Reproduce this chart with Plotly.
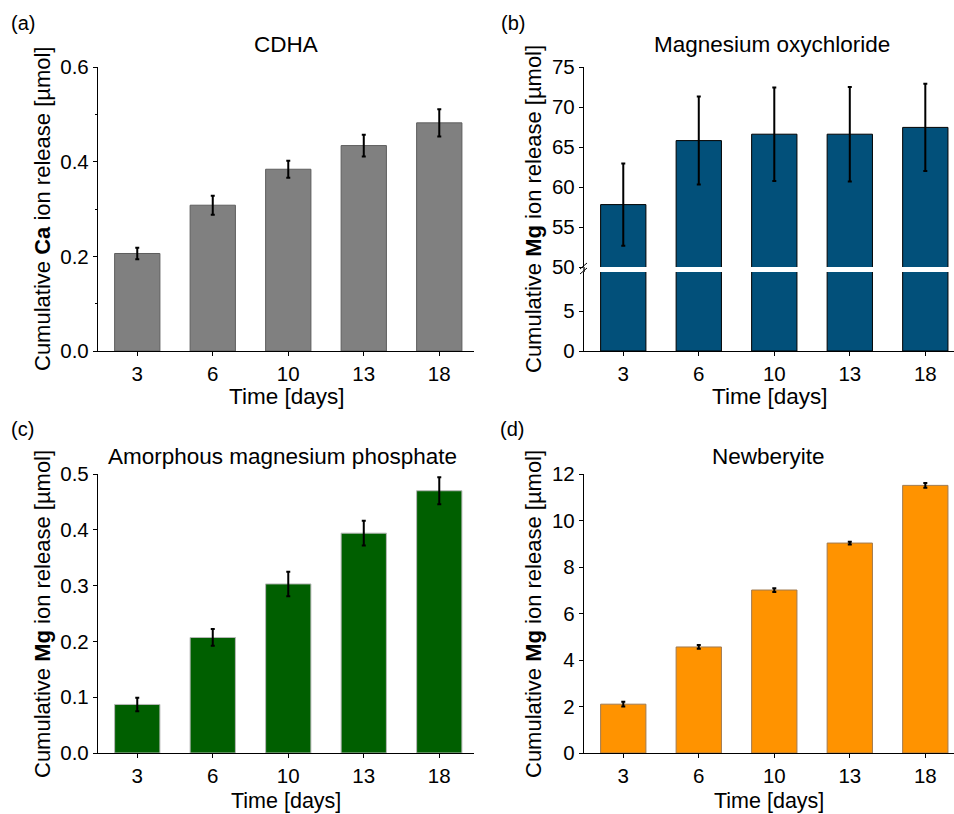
import plotly.graph_objects as go

# ---------------- data ----------------
days = ["3", "6", "10", "13", "18"]

ca_cdha = [0.206, 0.308, 0.384, 0.434, 0.482]
ca_cdha_err = [0.012, 0.020, 0.018, 0.023, 0.029]

mg_moc = [57.8, 65.8, 66.6, 66.6, 67.45]
mg_moc_err = [5.15, 5.5, 5.85, 5.9, 5.45]

mg_amp = [0.087, 0.207, 0.303, 0.394, 0.470]
mg_amp_err = [0.012, 0.015, 0.022, 0.022, 0.024]

mg_newb = [2.10, 4.56, 7.01, 9.03, 11.51]
mg_newb_err = [0.10, 0.08, 0.08, 0.06, 0.10]

titles = ["CDHA", "Magnesium oxychloride", "Amorphous magnesium phosphate", "Newberyite"]
panel_labels = ["(a)", "(b)", "(c)", "(d)"]
ytitles = ["Cumulative <b>Ca</b> ion release [µmol]",
           "Cumulative <b>Mg</b> ion release [µmol]",
           "Cumulative <b>Mg</b> ion release [µmol]",
           "Cumulative <b>Mg</b> ion release [µmol]"]
xtitle = "Time [days]"

# ---------------- geometry ----------------
W, H = 954, 814
FONT = "Liberation Sans, Arial, sans-serif"


def px(x):
    return x / W


def py(y):
    return 1 - y / H


xa_dom = [px(98), px(474)]
xb_dom = [px(584), px(954)]
ytop_dom = [py(351), py(67)]
ybot_dom = [py(753), py(474)]
yb_low_dom = [py(351), py(272)]
yb_up_dom = [py(267), py(67)]

fig = go.Figure()


def bar(x, y, err, color, line_color, xaxis, yaxis, show_err=True):
    return go.Bar(
        x=x, y=y, width=0.6,
        marker=dict(color=color, line=dict(color=line_color, width=1)),
        error_y=dict(type="data", array=err, visible=show_err, color="black",
                     thickness=2, width=2),
        xaxis=xaxis, yaxis=yaxis, showlegend=False,
    )


fig.add_trace(bar(days, ca_cdha, ca_cdha_err, "#808080", "#5e5e5e", "x", "y"))
fig.add_trace(bar(days, mg_moc, mg_moc_err, "#02507a", "#000000", "x2", "y2"))
fig.add_trace(bar(days, mg_moc, mg_moc_err, "#02507a", "#000000", "x3", "y3", show_err=False))
fig.add_trace(bar(days, mg_amp, mg_amp_err, "#005f00", "#b8b8b8", "x4", "y4"))
fig.add_trace(bar(days, mg_newb, mg_newb_err, "#ff9300", "#a07a50", "x5", "y5"))

tickfont = dict(family=FONT, size=20.5, color="black")
xrange_left = [-0.52, 4.46]
xrange_right = [-0.52, 4.38]


def xaxis(domain, anchor, rng, show=True):
    return dict(domain=domain, anchor=anchor, type="category", range=rng,
                showline=show, linecolor="black", linewidth=1.3,
                ticks="outside" if show else "", ticklen=4, tickwidth=1.3,
                tickcolor="black", showticklabels=show, tickfont=tickfont,
                showgrid=False, zeroline=False, automargin=False)


def yaxis(domain, anchor, rng, tickvals, fmt=None, minor=None):
    d = dict(domain=domain, anchor=anchor, range=rng, tickvals=tickvals,
             showline=True, linecolor="black", linewidth=1.3,
             ticks="outside", ticklen=4, tickwidth=1.3, tickcolor="black",
             tickfont=tickfont, showgrid=False, zeroline=False, automargin=False)
    if fmt:
        d["tickformat"] = fmt
    if minor is not None:
        d["minor"] = minor
    return d


fig.update_layout(
    template="none",
    width=W, height=H,
    margin=dict(l=0, r=0, t=0, b=0, autoexpand=False),
    paper_bgcolor="white", plot_bgcolor="white",
    font=dict(family=FONT, size=20, color="black"),
    xaxis=xaxis(xa_dom, "y", xrange_left),
    yaxis=yaxis(ytop_dom, "x", [0, 0.6], [0, 0.2, 0.4, 0.6], fmt=".1f",
                minor=dict(ticks="outside", ticklen=2, tickvals=[0.1, 0.3, 0.5],
                           tickcolor="black", tickwidth=1)),
    xaxis2=xaxis(xb_dom, "y2", xrange_right, show=False),
    yaxis2=yaxis(yb_up_dom, "x2", [50, 75], [50, 55, 60, 65, 70, 75]),
    xaxis3=xaxis(xb_dom, "y3", xrange_right),
    yaxis3=yaxis(yb_low_dom, "x3", [0, 9.9], [0, 5]),
    xaxis4=xaxis(xa_dom, "y4", xrange_left),
    yaxis4=yaxis(ybot_dom, "x4", [0, 0.5], [0, 0.1, 0.2, 0.3, 0.4, 0.5], fmt=".1f"),
    xaxis5=xaxis(xb_dom, "y5", xrange_right),
    yaxis5=yaxis(ybot_dom, "x5", [0, 12], [0, 2, 4, 6, 8, 10, 12]),
)

ann = []
title_font = dict(family=FONT, size=22.5, color="black")
label_font = dict(family=FONT, size=20, color="black")
# subplot titles
for t, (x, y) in zip(titles, [(286, 44), (772, 44), (282, 456), (768, 456)]):
    ann.append(dict(text=t, x=px(x), y=py(y), xref="paper", yref="paper",
                    xanchor="center", yanchor="middle", showarrow=False, font=title_font))
# panel labels
for t, (x, y) in zip(panel_labels, [(9, 23), (499, 23), (9, 429), (498, 429)]):
    ann.append(dict(text=t, x=px(x), y=py(y), xref="paper", yref="paper",
                    xanchor="left", yanchor="middle", showarrow=False, font=label_font))
# y titles
for t, (x, y) in zip(ytitles, [(42, 209), (533, 209), (42, 614), (533, 614)]):
    ann.append(dict(text=t, x=px(x), y=py(y), xref="paper", yref="paper",
                    xanchor="center", yanchor="middle", textangle=-90,
                    showarrow=False, font=dict(family=FONT, size=22, color="black")))
# x titles
for (x, y, s) in [(286, 396, 22.5), (769, 396, 22.5), (286, 801, 21.5), (769, 801, 21.5)]:
    ann.append(dict(text=xtitle, x=px(x), y=py(y), xref="paper", yref="paper",
                    xanchor="center", yanchor="middle", showarrow=False,
                    font=dict(family=FONT, size=s, color="black")))
fig.update_layout(annotations=ann)

# axis break: continue the axis line through the gap and draw the // marks
shapes = [
    dict(type="line", xref="paper", yref="paper", x0=px(584), x1=px(584),
         y0=py(272), y1=py(267), line=dict(color="black", width=1.3)),
    dict(type="line", xref="paper", yref="paper", x0=px(580), x1=px(587),
         y0=py(269), y1=py(263), line=dict(color="black", width=1)),
    dict(type="line", xref="paper", yref="paper", x0=px(580), x1=px(587),
         y0=py(274), y1=py(268), line=dict(color="black", width=1)),
]
fig.update_layout(shapes=shapes)

fig.write_html("out.html")
